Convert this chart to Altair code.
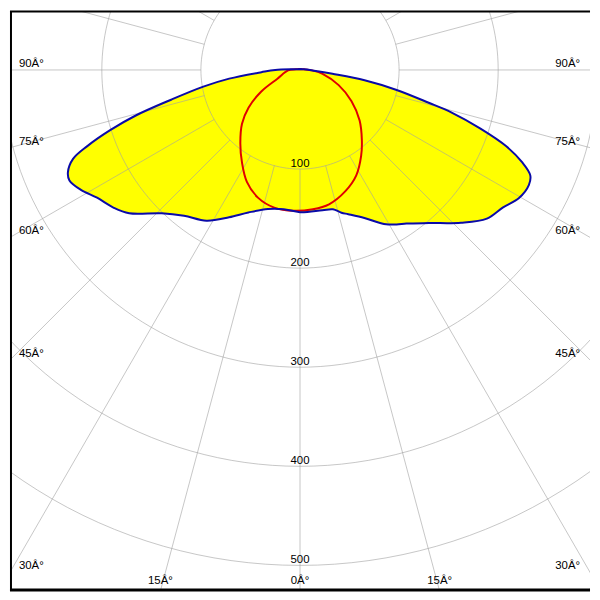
import altair as alt
import pandas as pd
import numpy as np

# ---- data (gamma in degrees, negative = left half; value in cd/klm)
c0_gamma = [-180, -105, -90, -86.7, -83, -80.2, -77, -74.5, -72.4, -70.3, -68.6, -66.2, -64.4,
            -61.3, -57.8, -53.6, -50, -44, -38.5, -31.8, -25.7, -19.9, -13, -6.7, 0,
            9.1, 13.3, 16.2, 18.5, 23.5, 28.6, 32, 34.7, 40.1, 46.5, 51.5, 55.9, 59.7, 63.3,
            65.4, 67.4, 69.7, 72, 74.3, 75.7, 78.3, 80.9, 83.2, 90, 105, 180]
c0_value = [1, 3, 25, 39, 72, 99, 133.5, 172, 201, 228, 246, 256, 258,
            252, 242, 234, 225, 201, 188, 179, 165, 153, 144, 141.5, 143.5,
            143.3, 144.5, 150, 153.5, 163, 177, 184, 188.6, 202, 224, 241, 247.5, 256, 258.5,
            255.6, 243, 222, 191.5, 159, 134, 99.6, 66, 33, 10, 3, 1]

c90_gamma = [-180, -100, -88, -68.9, -60.9, -53.8, -47.1, -39.2, -32.1, -25.4, -18.1, -10.6, -2.6,
             5.3, 12.2, 20.4, 28.1, 35.4, 41.5, 49.7, 58.8, 68.6, 80.3, 88, 100, 180]
c90_value = [1, 4, 12, 24.4, 44.7, 64.4, 79.9, 95.3, 110.2, 125, 135.8, 141.3, 142.3,
             141.1, 138.7, 130.8, 120.6, 106.5, 94.2, 78.9, 60.8, 41.9, 23.1, 12, 4, 1]

ring_values = [100, 200, 300, 400, 500, 600]
ring_labels = ["100", "200", "300", "400", "500"]
spoke_angles = list(range(-165, 181, 15))
angle_labels_left = [(90, "90Â°"), (75, "75Â°"), (60, "60Â°"), (45, "45Â°"), (30, "30Â°"), (15, "15Â°")]
angle_labels_right = [(90, "90Â°"), (75, "75Â°"), (60, "60Â°"), (45, "45Â°"), (30, "30Â°"), (15, "15Â°")]
zero_label = "0Â°"

# ---- view geometry (units = cd/klm)
K = 1.025  # reference px per unit
XMIN, XMAX = -300 / K, 300 / K
YMIN, YMAX = -61 / K, 539 / K
W = H = 584

xs = alt.Scale(domain=[XMIN, XMAX], nice=False, zero=False)
ys = alt.Scale(domain=[YMIN, YMAX], nice=False, zero=False, reverse=True)

def curve_df(g, v):
    return pd.DataFrame({"g": g, "v": v, "i": range(len(g))})

polar_x = "datum.v * sin(datum.g * PI / 180)"
polar_y = "datum.v * cos(datum.g * PI / 180)"

blue_df = curve_df(c0_gamma, c0_value)
red_df = curve_df(c90_gamma, c90_value)

base_enc = dict(
    x=alt.X("px:Q", scale=xs, axis=None),
    y=alt.Y("py:Q", scale=ys, axis=None),
    order=alt.Order("i:Q"),
)

blue_fill = alt.Chart(blue_df).transform_calculate(px=polar_x, py=polar_y).mark_line(
    fill="#ffff00", stroke="#ffff00", strokeWidth=0, interpolate="catmull-rom", clip=True
).encode(**base_enc)

blue_line = alt.Chart(blue_df).transform_calculate(px=polar_x, py=polar_y).mark_line(
    stroke="#0a0aa8", strokeWidth=2, interpolate="catmull-rom", clip=True
).encode(**base_enc)

red_line = alt.Chart(red_df).transform_calculate(px=polar_x, py=polar_y).mark_line(
    stroke="#e00000", strokeWidth=2, interpolate="catmull-rom", clip=True
).encode(**base_enc)

# rings
ring_rows = []
for rv in ring_values:
    for j, a in enumerate(np.arange(-180, 181, 2)):
        ring_rows.append({"ring": rv, "g": float(a), "v": rv, "i": j})
ring_df = pd.DataFrame(ring_rows)
rings = alt.Chart(ring_df).transform_calculate(px=polar_x, py=polar_y).mark_line(
    stroke="#a0a0a0", strokeOpacity=0.6, strokeWidth=1, clip=True
).encode(
    x=alt.X("px:Q", scale=xs, axis=None),
    y=alt.Y("py:Q", scale=ys, axis=None),
    detail="ring:N",
    order=alt.Order("i:Q"),
)

# spokes from ring 100 outward
spoke_df = pd.DataFrame({"g": spoke_angles})
spokes = alt.Chart(spoke_df).transform_calculate(
    x1="100 * sin(datum.g * PI / 180)",
    y1="100 * cos(datum.g * PI / 180)",
    x2="800 * sin(datum.g * PI / 180)",
    y2="800 * cos(datum.g * PI / 180)",
).mark_rule(stroke="#a0a0a0", strokeOpacity=0.6, strokeWidth=1, clip=True).encode(
    x=alt.X("x1:Q", scale=xs, axis=None),
    y=alt.Y("y1:Q", scale=ys, axis=None),
    x2="x2:Q",
    y2="y2:Q",
)

FONT = "Liberation Sans"
FS = 11.5

# ring labels
rl_df = pd.DataFrame({"v": [int(s) for s in ring_labels], "t": ring_labels, "zero": 0})
ring_text = alt.Chart(rl_df).mark_text(
    font=FONT, fontSize=FS, fill="#000000", align="center", baseline="alphabetic", dy=-2
).encode(
    x=alt.X("zero:Q", scale=xs, axis=None),
    y=alt.Y("v:Q", scale=ys, axis=None),
    text="t:N",
)

# angle labels: placed where each spoke leaves the frame
def exit_point(a_deg, side):
    a = np.radians(a_deg)
    s, c = np.sin(a), np.cos(a)
    t_side = (XMAX / s) if s > 1e-9 else np.inf
    t_bot = (YMAX / c) if c > 1e-9 else np.inf
    t = min(t_side, t_bot)
    return side * s * t, c * t, (t_side <= t_bot)

side_rows_l, side_rows_r, bot_rows = [], [], []
for a, t in angle_labels_left:
    x, y, on_side = exit_point(a, -1)
    (side_rows_l if on_side else bot_rows).append({"x": x, "y": y, "t": t})
for a, t in angle_labels_right:
    x, y, on_side = exit_point(a, 1)
    (side_rows_r if on_side else bot_rows).append({"x": x, "y": y, "t": t})
bot_rows.append({"x": 0.0, "y": YMAX, "t": zero_label})

def label_layer(rows, align, dx, dy):
    df = pd.DataFrame(rows)
    return alt.Chart(df).mark_text(
        font=FONT, fontSize=FS, fill="#000000", align=align, baseline="alphabetic", dx=dx, dy=dy
    ).encode(
        x=alt.X("x:Q", scale=xs, axis=None),
        y=alt.Y("y:Q", scale=ys, axis=None),
        text="t:N",
    )

left_labels = label_layer(side_rows_l, "left", 9, -3)
right_labels = label_layer(side_rows_r, "right", -10, -3)
bottom_labels = label_layer(bot_rows, "center", 0, -7)

# frame edges (left, top, bottom)
edge_left = alt.Chart(pd.DataFrame({"k": [0]})).mark_rule(color="black", strokeWidth=2).encode(
    x=alt.value(1), y=alt.value(0), y2=alt.value(H))
edge_top = alt.Chart(pd.DataFrame({"k": [0]})).mark_rule(color="black", strokeWidth=2).encode(
    x=alt.value(0), x2=alt.value(W), y=alt.value(0.5))
edge_bottom = alt.Chart(pd.DataFrame({"k": [0]})).mark_rule(color="black", strokeWidth=3).encode(
    x=alt.value(0), x2=alt.value(W), y=alt.value(H - 1))

chart = alt.layer(
    blue_fill, rings, spokes, red_line, blue_line, ring_text,
    left_labels, right_labels, bottom_labels, edge_left, edge_top, edge_bottom
).properties(width=W, height=H, padding=0, background="white").configure_view(strokeWidth=0)

chart.save("out.html", embed_options={"renderer": "svg", "actions": False})
